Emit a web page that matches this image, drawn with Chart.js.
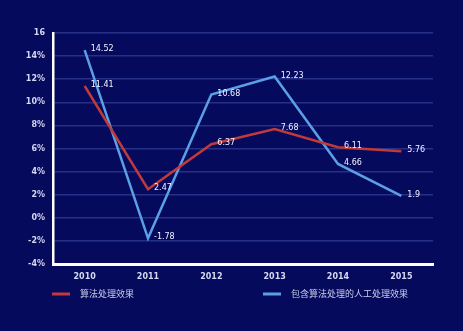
<!DOCTYPE html>
<html>
<head>
<meta charset="utf-8">
<script src="https://cdn.jsdelivr.net/npm/chart.js@4/dist/chart.umd.min.js"></script>
<style>
  html, body { margin: 0; padding: 0; background: #060a5c; }
  #wrap { width: 463px; height: 331px; position: relative; }
</style>
</head>
<body>
<div id="wrap"><canvas id="c" width="463" height="331"></canvas></div>
<script>
const years = ['2010', '2011', '2012', '2013', '2014', '2015'];
const algoValues = [11.41, 2.47, 6.37, 7.68, 6.11, 5.76];
const manualValues = [14.52, -1.78, 10.68, 12.23, 4.66, 1.9];
const seriesNames = ['算法处理效果', '包含算法处理的人工处理效果'];
const yTicks = [-4, -2, 0, 2, 4, 6, 8, 10, 12, 14, 16];

const tickFont = { family: 'DejaVu Sans', size: 8, weight: 'bold' };

// value labels to the right of each point
const pointLabels = {
  id: 'pointLabels',
  afterDatasetsDraw(chart) {
    const ctx = chart.ctx;
    ctx.save();
    ctx.font = '8px "DejaVu Sans"';
    ctx.fillStyle = '#f2f3ff';
    ctx.textBaseline = 'middle';
    ctx.textAlign = 'left';
    chart.data.datasets.forEach((ds, i) => {
      chart.getDatasetMeta(i).data.forEach((pt, j) => {
        ctx.fillText(String(ds.data[j]), pt.x + 6, pt.y - 1);
      });
    });
    ctx.restore();
  }
};

// legend along the bottom, one entry on each side
const bottomLegend = {
  id: 'bottomLegend',
  afterDraw(chart) {
    const ctx = chart.ctx;
    const spots = [52, 263];
    ctx.save();
    ctx.font = '9px "Noto Sans CJK SC"';
    ctx.textBaseline = 'middle';
    chart.data.datasets.forEach((ds, i) => {
      const x = spots[i], y = 294;
      ctx.strokeStyle = ds.borderColor;
      ctx.lineWidth = 3;
      ctx.beginPath();
      ctx.moveTo(x, y);
      ctx.lineTo(x + 18, y);
      ctx.stroke();
      ctx.fillStyle = '#c9cde8';
      ctx.fillText(ds.label, x + 28, y);
    });
    ctx.restore();
  }
};

new Chart(document.getElementById('c'), {
  type: 'line',
  data: {
    labels: years,
    datasets: [
      {
        label: seriesNames[0],
        data: algoValues,
        borderColor: '#bf3a3a',
        borderWidth: 2.5,
        pointRadius: 0,
        tension: 0
      },
      {
        label: seriesNames[1],
        data: manualValues,
        borderColor: '#5b9fe6',
        borderWidth: 2.5,
        pointRadius: 0,
        tension: 0
      }
    ]
  },
  options: {
    responsive: false,
    animation: false,
    layout: { padding: { left: 0, right: 30, top: 33, bottom: 0 } },
    plugins: {
      legend: { display: false },
      tooltip: { enabled: false }
    },
    scales: {
      x: {
        offset: true,
        grid: { display: false },
        border: { display: true, color: '#ffffff', width: 3 },
        ticks: { color: '#d4d8f2', font: tickFont, padding: 0, maxRotation: 0 },
        afterFit(scale) { scale.height = 67; }
      },
      y: {
        min: -4,
        max: 16,
        afterBuildTicks(scale) { scale.ticks = yTicks.map(v => ({ value: v })); },
        grid: { color: 'rgba(70, 85, 180, 0.5)', lineWidth: 1.5, drawTicks: false },
        border: { display: true, color: '#ffffff', width: 2.5 },
        ticks: {
          color: '#d4d8f2',
          font: tickFont,
          padding: 8,
          callback: v => v === 16 ? '16' : v + '%'
        },
        afterFit(scale) { scale.width = 53; }
      }
    }
  },
  plugins: [pointLabels, bottomLegend]
});
</script>
</body>
</html>
